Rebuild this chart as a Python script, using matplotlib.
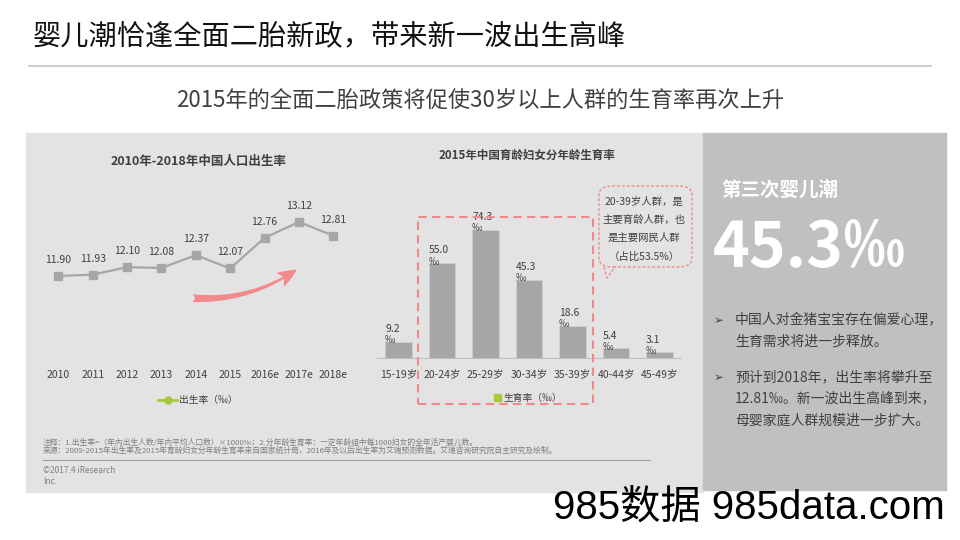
"""婴儿潮恰逢全面二胎新政 -- birth rate line chart plus age-group fertility bars."""

import matplotlib
matplotlib.use("Agg")
from matplotlib import pyplot as plt
from matplotlib.lines import Line2D
from matplotlib.patches import Patch, Rectangle, FancyArrowPatch, FancyBboxPatch

plt.rcParams["font.family"] = ["Noto Sans CJK SC", "DejaVu Sans"]

# birth rate 2010-2018 (‰)
years = ["2010", "2011", "2012", "2013", "2014", "2015", "2016e", "2017e", "2018e"]
birth_rate = [11.90, 11.93, 12.10, 12.08, 12.37, 12.07, 12.76, 13.12, 12.81]

# 2015 fertility by age group (‰)
age_groups = ["15-19岁", "20-24岁", "25-29岁", "30-34岁", "35-39岁", "40-44岁", "45-49岁"]
fertility = [9.2, 55.0, 74.3, 45.3, 18.6, 5.4, 3.1]

bullets = [
    "中国人对金猪宝宝存在偏爱心理，\n生育需求将进一步释放。",
    "预计到2018年，出生率将攀升至\n12.81‰。新一波出生高峰到来，\n母婴家庭人群规模进一步扩大。",
]
bubble_text = "20-39岁人群，是\n主要育龄人群，也\n是主要网民人群\n（占比53.5%）"
notes = ("注释：1.出生率=（年内出生人数/年内平均人口数）×1000‰；"
         "2.分年龄生育率：一定年龄组中每1000妇女的全年活产婴儿数。\n"
         "来源：2009-2015年出生率及2015年育龄妇女分年龄生育率来自国家统计局，"
         "2016年及以后出生率为艾瑞预测数据。艾瑞咨询研究院自主研究及绘制。")

W, H = 960, 540
TXT = "#404040"
GRAY = "#a6a6a6"
PINK = "#f08a8a"
GREEN = "#a9c83c"


def fx(px):
    return px / W


def fy(py):
    return 1 - py / H


def axes_px(fig, left, top, right, bottom):
    return fig.add_axes([fx(left), fy(bottom), (right - left) / W, (bottom - top) / H])


def main():
    fig = plt.figure(figsize=(9.6, 5.4), dpi=100, facecolor="white")

    # header
    fig.text(fx(33), fy(36), "婴儿潮恰逢全面二胎新政，带来新一波出生高峰",
             fontsize=20.3, color="#111111", va="center", ha="left")
    fig.add_artist(Line2D([fx(29), fx(931)], [fy(66), fy(66)], color="#d0d0d0", lw=1.5))
    fig.text(0.5, fy(101), "2015年的全面二胎政策将促使30岁以上人群的生育率再次上升",
             fontsize=16, color=TXT, va="center", ha="center")

    # panels
    fig.add_artist(Rectangle((fx(26), fy(492)), fx(703 - 26), (492 - 133) / H,
                             transform=fig.transFigure, color="#e3e3e3", zorder=-10))
    fig.add_artist(Rectangle((fx(703), fy(490)), fx(946 - 703), (490 - 133) / H,
                             transform=fig.transFigure, color="#c0c0c0", zorder=-10))

    # line chart
    ax = axes_px(fig, 41.1, 175, 350.5, 365)
    ax.set_facecolor("none")
    x = list(range(len(years)))
    ax.plot(x, birth_rate, color=GRAY, lw=1.6, marker="s", markersize=5.5)
    for xi, v in zip(x, birth_rate):
        ax.annotate(f"{v:.2f}", (xi, v), xytext=(0, 11.5), textcoords="offset points",
                    ha="center", va="center", fontsize=7.5, color=TXT)
    ax.set_xlim(-0.5, len(years) - 0.5)
    ax.set_ylim(9.89, 14.18)
    ax.set_xticks(x, years, fontsize=7.5, color=TXT)
    ax.set_yticks([])
    ax.tick_params(length=0, pad=3.5)
    for s in ax.spines.values():
        s.set_visible(False)
    fig.text(fx(199), fy(162), "2010年-2018年中国人口出生率", fontsize=9,
             fontweight="bold", color=TXT, ha="center", va="center")
    ax.legend([Line2D([], [], color=GREEN, lw=2, marker="o", markersize=5)],
              ["出生率（‰）"], loc="center left", bbox_to_anchor=(fx(158), fy(400)),
              bbox_transform=fig.transFigure, frameon=False, fontsize=7,
              handlelength=2, handletextpad=0.2, borderpad=0, borderaxespad=0,
              labelcolor=TXT)
    fig.add_artist(FancyArrowPatch((fx(190), fy(298)), (fx(299), fy(268)),
                                   transform=fig.transFigure,
                                   connectionstyle="arc3,rad=0.18",
                                   arrowstyle="fancy,head_length=1.0,head_width=0.8,tail_width=0.4",
                                   mutation_scale=14, color="#f4898c", lw=0))

    # bar chart
    bx = axes_px(fig, 376.75, 200, 681.25, 357.7)
    bx.set_facecolor("none")
    xb = list(range(len(age_groups)))
    width = 0.62
    bx.bar(xb, fertility, width=width, color=GRAY, edgecolor="#cfcfcf", lw=0.6)
    for xi, v in zip(xb, fertility):
        bx.annotate(f"{v:.1f}\n‰", (xi - width / 2, v), xytext=(0, -2.5),
                    textcoords="offset points", ha="left", va="bottom",
                    fontsize=7.5, color=TXT, linespacing=1.15)
    bx.set_xlim(-0.5, len(age_groups) - 0.5)
    bx.set_ylim(0, 91.7)
    bx.set_xticks(xb, age_groups, fontsize=7.5, color=TXT)
    bx.set_yticks([])
    bx.tick_params(length=0, pad=8.5)
    for name, s in bx.spines.items():
        s.set_visible(name == "bottom")
    bx.spines["bottom"].set_color("#bfbfbf")
    fig.text(fx(527), fy(155), "2015年中国育龄妇女分年龄生育率", fontsize=8.3,
             fontweight="bold", color=TXT, ha="center", va="center")
    bx.legend([Patch(color=GREEN)], ["生育率（‰）"], loc="center left",
              bbox_to_anchor=(fx(494), fy(398)), bbox_transform=fig.transFigure,
              frameon=False, fontsize=7, handlelength=0.7, handleheight=0.7,
              handletextpad=0.3, borderpad=0, borderaxespad=0, labelcolor=TXT)

    # highlight box and callout bubble
    fig.add_artist(Rectangle((fx(418), fy(404)), fx(593 - 418), (404 - 217) / H,
                             transform=fig.transFigure, fill=False, ec=PINK,
                             lw=1.5, ls=(0, (4, 2.5))))
    fig.add_artist(FancyBboxPatch((fx(599), fy(267)), fx(692 - 599), (267 - 186) / H,
                                  boxstyle="round,pad=0,rounding_size=0.015",
                                  transform=fig.transFigure, fill=False, ec=PINK,
                                  lw=1, ls=(0, (2, 1.5))))
    fig.add_artist(Line2D([fx(604), fx(607), fx(615)], [fy(267), fy(278), fy(267)],
                          color=PINK, lw=1, ls=(0, (2, 1.5))))
    fig.text(fx(644), fy(229), bubble_text, fontsize=7.5, color=TXT,
             ha="center", va="center", linespacing=2.0)

    # right panel
    fig.text(fx(721), fy(190), "第三次婴儿潮", fontsize=14, fontweight="bold",
             color="white", va="center", ha="left")
    fig.text(fx(713), fy(248), "45.3‰", fontsize=45, fontweight="bold",
             color="white", va="center", ha="left")
    for top, txt in zip([321, 378], bullets):
        fig.text(fx(714), fy(top), "➢", fontsize=8.5, color=TXT, va="center",
                 ha="left", family="DejaVu Sans")
        fig.text(fx(735), fy(top - 8), txt, fontsize=10, color=TXT, va="top",
                 ha="left", linespacing=1.7)

    # footer
    fig.text(fx(43), fy(446.5), notes, fontsize=5.6, color="#7f7f7f",
             va="center", linespacing=0.95)
    fig.add_artist(Line2D([fx(43), fx(650)], [fy(460), fy(460)], color="#a0a0a0", lw=0.8))
    fig.text(fx(43), fy(476), "©2017.4 iResearch\nInc.", fontsize=6, color="#7f7f7f",
             va="center", linespacing=1.25)

    fig.text(fx(553), fy(508), "985数据 985data.com", fontsize=29, color="black",
             va="center", ha="left", family=["Liberation Sans", "Noto Sans CJK SC"])

    fig.savefig("out.png", dpi=100, facecolor="white")
    plt.close(fig)


if __name__ == "__main__":
    main()
